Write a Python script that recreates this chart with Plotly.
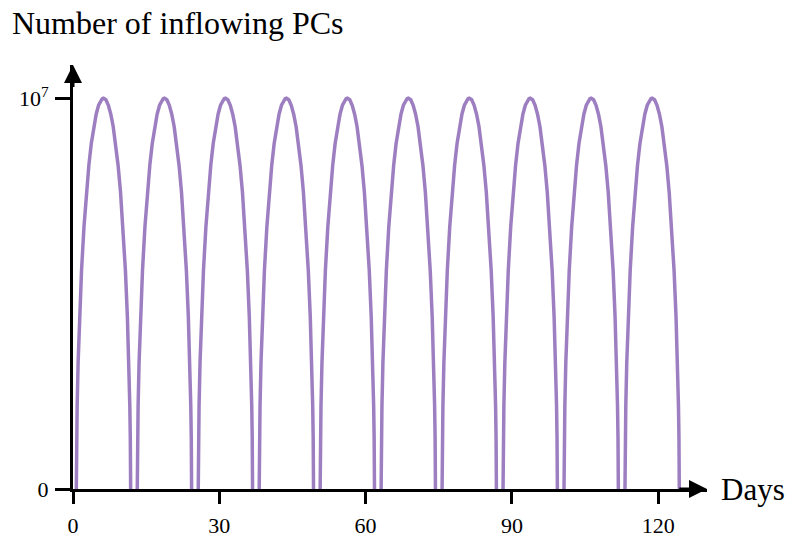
import plotly.graph_objects as go

# Day of the peak of each inflow pulse
pulse_peak_days = [6.25, 18.75, 31.25, 43.75, 56.25, 68.75, 81.25, 93.75, 106.25, 118.75]

# Shape of one pulse: days relative to its peak and inflowing PCs (millions)
profile_days = [-5.57, -5.55, -5.5, -5.4, -5.2, -4.9, -4.5, -4.0, -3.5, -3.0, -2.5, -2.0,
                -1.5, -1.0, -0.5, -0.25, 0.0, 0.25, 0.5, 1.0, 1.5, 2.0, 2.5, 3.0, 3.5, 4.0,
                4.5, 4.9, 5.2, 5.4, 5.5, 5.55, 5.57]
profile_values = [0.0, 0.66, 1.31, 2.13, 3.24, 4.41, 5.59, 6.71, 7.59, 8.28, 8.84, 9.27,
                  9.59, 9.82, 9.96, 9.99, 10.0, 9.99, 9.96, 9.82, 9.59, 9.27, 8.84, 8.28,
                  7.59, 6.71, 5.59, 4.41, 3.24, 2.13, 1.31, 0.66, 0.0]

x_ticks = [0, 30, 60, 90, 120]
y_ticks = [0, 1e7]
y_tick_labels = ["0", "10<sup>7</sup>"]

# one arch per pulse; the stretches at zero lie under the day axis
xs, ys = [], []
for peak in pulse_peak_days:
    for d, v in zip(profile_days, profile_values):
        xs.append(peak + d)
        ys.append(v * 1e6)
    xs.append(None)
    ys.append(None)

FONT = "Liberation Serif"
purple = "#9d7fc1"

fig = go.Figure()
fig.add_trace(go.Scatter(x=xs, y=ys, mode="lines", connectgaps=False,
                         line=dict(color=purple, width=3.5),
                         hoverinfo="skip"))

x_max = 130.0
y_max = 10.85e6

fig.update_layout(
    width=795, height=541,
    margin=dict(l=73, r=88, t=65, b=52),
    plot_bgcolor="white", paper_bgcolor="white",
    showlegend=False,
    font=dict(family=FONT, color="black", size=22),
    xaxis=dict(range=[0, x_max], showgrid=False, zeroline=False, automargin=False,
               showline=True, linecolor="black", linewidth=3,
               tickvals=x_ticks, ticks="outside", ticklen=12, tickwidth=3,
               tickcolor="black", ticklabelstandoff=3,
               tickfont=dict(family=FONT, size=22)),
    yaxis=dict(range=[0, y_max], showgrid=False, zeroline=False, automargin=False,
               showline=True, linecolor="black", linewidth=3,
               tickvals=y_ticks, ticktext=y_tick_labels, ticks="outside",
               ticklen=15, tickwidth=3, tickcolor="black", ticklabelstandoff=2,
               tickfont=dict(family=FONT, size=22)),
)

# arrowheads at the ends of both axes
fig.add_annotation(x=x_max, y=0, ax=x_max - 6, ay=0, xref="x", yref="y",
                   axref="x", ayref="y", showarrow=True, arrowhead=2,
                   arrowsize=1.2, arrowwidth=3, arrowcolor="black", text="")
fig.add_annotation(x=0, y=y_max, ax=0, ay=y_max - 0.6e6, xref="x", yref="y",
                   axref="x", ayref="y", showarrow=True, arrowhead=2,
                   arrowsize=1.2, arrowwidth=3, arrowcolor="black", text="")

fig.add_annotation(x=0, y=1, xref="paper", yref="paper", xanchor="left",
                   yanchor="middle", showarrow=False,
                   text="Number of inflowing PCs", font=dict(family=FONT, size=32),
                   xshift=-63, yshift=42)
fig.add_annotation(x=1, y=0, xref="paper", yref="y", xanchor="left",
                   yanchor="middle", showarrow=False, text="Days",
                   font=dict(family=FONT, size=31), xshift=12)

fig.write_html("out.html")
